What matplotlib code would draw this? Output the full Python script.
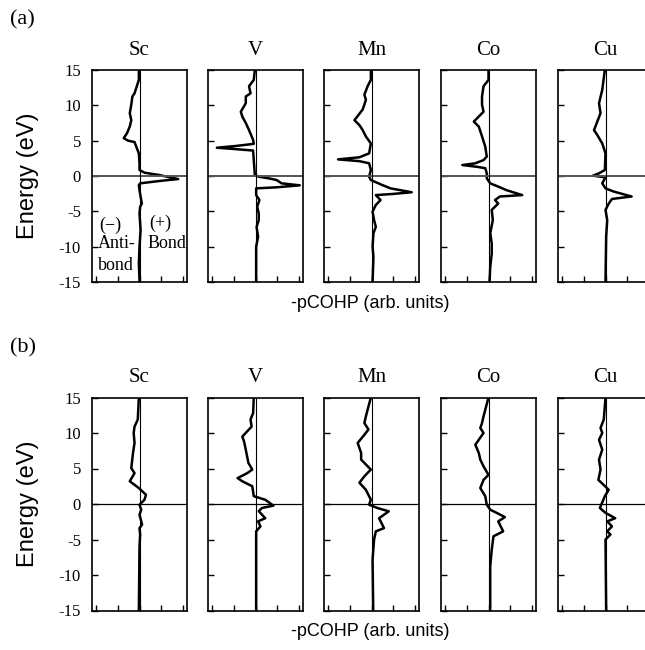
import matplotlib
matplotlib.use('Agg')
import matplotlib.pyplot as plt

plt.rcParams['axes.unicode_minus'] = False

elements = ['Sc', 'V', 'Mn', 'Co', 'Cu']

# panel (a): energy (eV) and -pCOHP (arb. units) for each element
sc_a_e = [15, 13.6, 11.7, 11.25, 10.1, 8.9, 7.9, 7.0, 6.05, 5.35, 5.0, 4.8, 4.15, 3.2, 1.8, 0.85, 0.47, 0.14,
          -0.43, -0.71, -1.04, -1.28, -2.0, -2.9, -3.9, -4.35, -5.3, -7.65, -10.0, -12.4, -14.75, -15]
sc_a_v = [-0.03, -0.03, -0.23, -0.33, -0.38, -0.45, -0.38, -0.45, -0.58, -0.73, -0.53, -0.23, -0.15, -0.03, 0, 0,
          0.23, 0.91, 1.79, 0.91, 0.03, -0.03, 0, 0.05, 0.11, 0.03, 0, 0.05, 0, -0.03, 0, 0]

v_a_e = [15, 13.6, 12.7, 11.7, 11.25, 10.3, 9.1, 8.4, 7.5, 6.5, 5.1, 4.55, 4.25, 4.0, 3.8, 3.6, 2.25, 0.15,
         -0.1, -0.33, -0.57, -1.04, -1.32, -1.6, -1.75, -2.7, -3.4, -4.35, -5.3, -6.25, -7.2, -8.6, -10.0, -15]
v_a_v = [-0.03, -0.08, -0.3, -0.23, -0.45, -0.45, -0.68, -0.61, -0.45, -0.3, -0.11, -0.08, -0.91, -1.79, -0.91,
         -0.11, -0.08, -0.03, 0.15, 0.61, 0.98, 1.21, 2.05, 0.98, 0.03, 0.03, 0.18, 0.08, 0.15, 0.15, 0.05, 0.12,
         0.03, 0.03]

mn_a_e = [15, 13.6, 12.7, 11.5, 10.8, 10.1, 9.4, 7.9, 7.2, 6.5, 5.6, 4.6, 3.2, 2.65, 2.35, 2.1, 1.8, 0.85,
          -0.1, -0.57, -1.28, -1.75, -2.3, -2.55, -2.7, -3.4, -4.1, -5.05, -6.25, -7.2, -8.1, -10.0, -11.4, -15]
mn_a_v = [-0.03, -0.03, -0.18, -0.33, -0.26, -0.33, -0.41, -0.79, -0.56, -0.41, -0.26, -0.03, -0.11, -0.56,
          -1.55, -0.56, -0.11, -0.03, -0.11, -0.03, 0.5, 0.88, 1.86, 0.95, 0.2, 0.42, 0.2, 0.05, 0.12, 0.2, 0.09,
          0.05, 0.09, 0.05]

co_a_e = [15, 13.6, 12.7, 11.25, 10.1, 9.1, 7.7, 7.0, 5.6, 4.15, 2.75, 2.25, 1.8, 1.55, 1.3, 1.1, 0.4, -0.33,
          -1.04, -1.5, -2.0, -2.7, -2.9, -3.4, -3.9, -4.8, -6.25, -8.1, -9.55, -11.0, -12.9, -15]
co_a_v = [0, 0, -0.23, -0.3, -0.3, -0.23, -0.68, -0.45, -0.3, -0.15, -0.08, -0.23, -0.61, -1.21, -0.53, -0.15,
          -0.08, -0.08, 0.08, 0.45, 0.83, 1.56, 0.53, 0.3, 0.45, 0.15, 0.2, 0.08, 0.15, 0.15, 0.08, 0.05]

cu_a_e = [15, 12.2, 10.3, 8.9, 6.5, 5.8, 4.6, 3.2, 0.85, 0.38, 0.05, -0.2, -1.04, -1.75, -2.2, -2.9, -3.25,
          -3.9, -4.8, -6.25, -8.6, -15]
cu_a_v = [-0.03, -0.15, -0.3, -0.23, -0.53, -0.38, -0.15, 0, -0.03, -0.3, -0.58, 0, -0.15, 0, 0.38, 1.21, 0.3,
          0.15, 0, 0.08, 0.03, 0]

# panel (b)
sc_b_e = [15, 11.9, 10.9, 10.0, 8.6, 7.2, 5.05, 4.35, 3.2, 2.7, 2.25, 1.3, 0.6, -0.1, -0.8, -1.5, -2.9, -3.4,
          -4.3, -6.0, -15]
sc_b_v = [-0.03, -0.08, -0.23, -0.27, -0.23, -0.3, -0.38, -0.23, -0.45, -0.23, -0.03, 0.3, 0.23, 0, 0.08, 0,
          0.12, 0, 0.03, 0, -0.03]

v_b_e = [15, 12.8, 11.9, 10.9, 9.5, 8.8, 7.65, 5.8, 4.85, 4.35, 3.65, 3.2, 2.5, 1.1, 0.6, -0.23, -0.56, -1.0,
         -2.0, -2.45, -3.15, -3.85, -15]
v_b_v = [-0.08, -0.11, -0.23, -0.18, -0.61, -0.53, -0.45, -0.33, -0.15, -0.38, -0.83, -0.61, -0.15, -0.08,
         0.45, 0.83, 0.3, 0.15, 0.45, 0.12, 0.23, 0.03, 0.03]

mn_b_e = [15, 12.35, 11.4, 10.5, 9.75, 8.6, 7.2, 6.25, 4.85, 3.9, 3.0, 2.0, 0.6, -0.1, -0.56, -1.03, -2.0,
          -3.4, -3.85, -5.0, -7.85, -15]
mn_b_v = [-0.03, -0.26, -0.33, -0.14, -0.33, -0.64, -0.48, -0.48, -0.03, -0.33, -0.56, -0.26, -0.03, -0.11,
          0.27, 0.8, 0.35, 0.58, 0.2, 0.12, 0.05, 0.08]

co_b_e = [15, 12.35, 11.4, 10.7, 10.0, 8.35, 7.2, 6.25, 5.3, 4.1, 3.4, 2.25, 1.1, -0.1, -0.8, -1.25, -1.85,
          -2.45, -3.85, -4.55, -6.45, -8.8, -15]
co_b_v = [0, -0.23, -0.3, -0.38, -0.23, -0.61, -0.45, -0.38, -0.23, 0, -0.23, -0.38, -0.15, -0.08, 0.08, 0.38,
          0.76, 0.45, 0.68, 0.23, 0.15, 0.08, 0.08]

cu_b_e = [15, 11.9, 10.7, 10.0, 9.05, 7.65, 6.25, 4.85, 3.4, 2.0, 1.1, -0.56, -1.25, -2.0, -2.45, -3.15, -3.85,
          -4.3, -5.0, -15]
cu_b_v = [0, -0.08, -0.23, -0.15, -0.3, -0.15, -0.3, -0.23, -0.33, 0.15, -0.03, -0.26, 0, 0.45, 0.08, 0.3,
          0.08, 0.23, 0, 0.03]

panel_a = [(sc_a_e, sc_a_v), (v_a_e, v_a_v), (mn_a_e, mn_a_v), (co_a_e, co_a_v), (cu_a_e, cu_a_v)]
panel_b = [(sc_b_e, sc_b_v), (v_b_e, v_b_v), (mn_b_e, mn_b_v), (co_b_e, co_b_v), (cu_b_e, cu_b_v)]

W, H = 645, 650
fig = plt.figure(figsize=(W / 100, H / 100), dpi=100)

serif = 'Liberation Serif'
sans = 'Liberation Sans'

lefts = [92, 208, 324, 441, 558]
ax_w = 95


def draw_panel(data, top, bottom, tag, fermi_col, fermi_lw):
    axes = []
    for i, (el, (e, v)) in enumerate(zip(elements, data)):
        ax = fig.add_axes([lefts[i] / W, 1 - bottom / H, ax_w / W, (bottom - top) / H])
        ax.plot(v, e, color='black', lw=1.8, solid_joinstyle='round')
        ax.axhline(0, color=fermi_col, lw=fermi_lw)
        ax.axvline(0, color='black', lw=0.8)
        ax.set_xlim(-2.2, 2.2)
        ax.set_ylim(-15, 15)
        ax.set_xticks([-2, -1, 0, 1, 2])
        ax.set_yticks(range(-15, 16, 5))
        ax.tick_params(direction='in', length=4, width=1, top=False, right=False, labelbottom=False, pad=8)
        if i > 0:
            ax.tick_params(labelleft=False)
        else:
            for lab in ax.get_yticklabels():
                lab.set_fontfamily(serif)
                lab.set_fontsize(12)
        for s in ax.spines.values():
            s.set_linewidth(1.2)
        ax.set_title(el, fontfamily=serif, fontsize=15, pad=11)
        axes.append(ax)
    fig.text(28 / W, 1 - (top + bottom) / 2 / H, 'Energy (eV)', fontfamily=sans, fontsize=17,
             rotation=90, ha='center', va='center')
    fig.text(370 / W, 1 - (bottom + 21) / H, '-pCOHP (arb. units)', fontfamily=sans, fontsize=13,
             ha='center', va='center')
    fig.text(10 / W, 1 - (top - 50) / H, tag, fontfamily=serif, fontsize=16, ha='left', va='center')
    return axes


ax_a = draw_panel(panel_a, 70, 282, '(a)', '#555555', 1.4)
draw_panel(panel_b, 397.5, 610.5, '(b)', 'black', 0.9)

sc = ax_a[0]
tk = dict(fontfamily=serif, fontsize=13, ha='center', va='center')
sc.text(-1.34, -6.95, '(\u2212)', **tk)
sc.text(-1.06, -9.6, 'Anti-', **tk)
sc.text(-1.09, -12.6, 'bond', **tk)
sc.text(0.97, -6.7, '(+)', **tk)
sc.text(1.25, -9.5, 'Bond', **tk)

fig.savefig('out.png', dpi=100)
